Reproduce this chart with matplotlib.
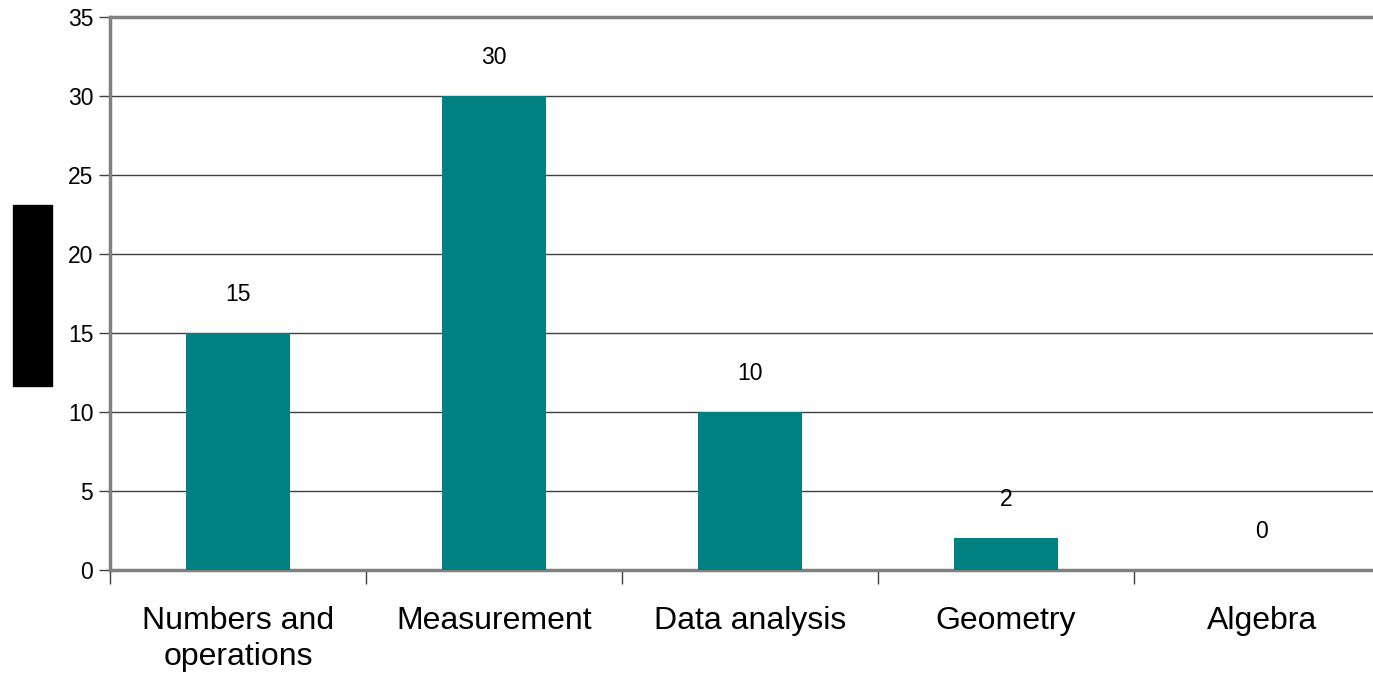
import matplotlib

matplotlib.use("Agg")
import matplotlib.pyplot as plt
from matplotlib.patches import Rectangle

categories = ["Numbers and\noperations", "Measurement", "Data analysis", "Geometry", "Algebra"]
values = [15, 30, 10, 2, 0]
yticks = [0, 5, 10, 15, 20, 25, 30, 35]

plt.rcParams["font.family"] = ["Liberation Sans", "DejaVu Sans"]

fig = plt.figure(figsize=(13.73, 6.83), dpi=100)
ax = fig.add_axes([110 / 1373, 113 / 683, 1280 / 1373, 553 / 683])

x = list(range(len(categories)))
ax.bar(x, values, width=0.41, color="#008080", zorder=3)
for xi, v in zip(x, values):
    ax.annotate(str(v), (xi, v), xytext=(0, 28), textcoords="offset points",
                ha="center", va="center", fontsize=16.5)

ax.set_xlim(-0.5, len(categories) - 0.5)
ax.set_ylim(0, 35)
ax.set_yticks(yticks)
ax.tick_params(axis="y", labelsize=16.5, length=8, width=1, color="#404040", pad=4)
ax.yaxis.grid(True, color="#404040", lw=1, zorder=1)

# category boundary ticks below the axis, labels centred in between
ax.set_xticks([i - 0.5 for i in range(len(categories))])
ax.set_xticklabels([])
ax.set_xticks(x, minor=True)
ax.set_xticklabels(categories, minor=True, fontsize=23, linespacing=1.25)
ax.tick_params(axis="x", which="major", length=10, width=1, color="#404040")
ax.tick_params(axis="x", which="minor", length=0, pad=26)

for side in ["left", "bottom", "top"]:
    ax.spines[side].set_color("#808080")
    ax.spines[side].set_linewidth(2.5)
ax.spines["right"].set_visible(False)

# black block left of the axis
fig.patches.append(Rectangle((13 / 1373, (683 - 386) / 683), 39 / 1373, 181 / 683,
                             transform=fig.transFigure, color="black"))

fig.savefig("out.png", dpi=100)
